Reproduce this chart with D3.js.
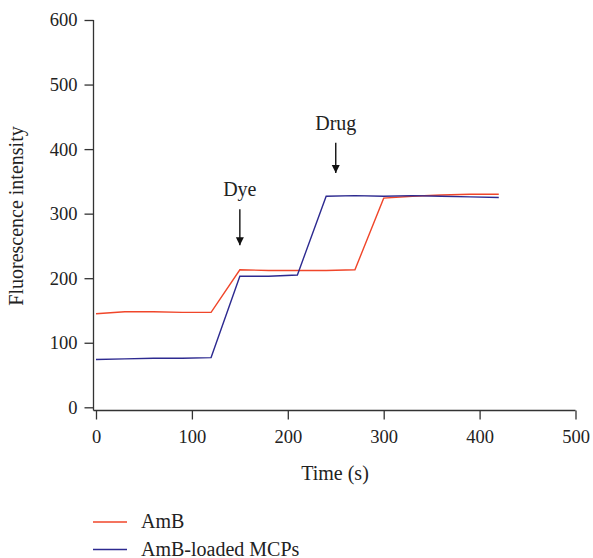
<!DOCTYPE html>
<html>
<head>
<meta charset="utf-8">
<script src="https://cdn.jsdelivr.net/npm/d3@7"></script>
<style>
  body { margin: 0; background: #fff; }
  text { font-family: "Liberation Serif", "DejaVu Serif", serif; fill: #222; }
</style>
</head>
<body>
<svg id="chart" width="593" height="558"></svg>
<script>
// time points (s)
const times = [0, 30, 60, 90, 120, 150, 180, 210, 240, 270, 300, 330, 360, 390, 420];
// fluorescence values
const amb = [145, 148, 148, 147, 147, 213, 212, 212, 212, 213, 324, 327, 329, 330, 330];
const ambMcp = [74, 75, 76, 76, 77, 203, 203, 205, 327, 328, 327, 328, 327, 326, 325];
const xTicks = [0, 100, 200, 300, 400, 500];
const yTicks = [0, 100, 200, 300, 400, 500, 600];
// annotations: time, arrow top, arrow bottom (in intensity units)
const notes = [
  { label: "Dye", t: 150, top: 307, bottom: 251 },
  { label: "Drug", t: 250, top: 410, bottom: 363 }
];
const seriesNames = ["AmB", "AmB-loaded MCPs"];
const colors = ["#f0462a", "#2d2a90"];

const svg = d3.select("#chart");

const x = d3.scaleLinear().domain([0, 500]).range([96, 575.5]);
const y = d3.scaleLinear().domain([0, 600]).range([407.3, 20]);

// axes
const yAxis = svg.append("g")
  .attr("transform", "translate(93.5,0)")
  .call(d3.axisLeft(y).tickValues(yTicks).tickSize(9).tickPadding(7));
yAxis.select(".domain").attr("d", "M0,20V410.5");

const xAxis = svg.append("g")
  .attr("transform", "translate(0,410.5)")
  .call(d3.axisBottom(x).tickValues(xTicks).tickSize(9).tickPadding(10));
xAxis.select(".domain").attr("d", "M93.5,0H575.5");

svg.selectAll(".tick text")
  .style("font-family", "Liberation Serif, serif")
  .style("font-size", "18.5px")
  .attr("fill", "#222");
svg.selectAll(".domain, .tick line").attr("stroke", "#333").attr("stroke-width", 1.3);

// axis titles
svg.append("text")
  .attr("x", 335).attr("y", 480)
  .attr("text-anchor", "middle")
  .style("font-size", "20px")
  .text("Time (s)");

svg.append("text")
  .attr("transform", "translate(23,216) rotate(-90)")
  .attr("text-anchor", "middle")
  .style("font-size", "20px")
  .text("Fluorescence intensity");

// lines
const line = d3.line()
  .x((d, i) => x(times[i]))
  .y(d => y(d));

[amb, ambMcp].forEach((s, k) => {
  svg.append("path")
    .datum(s)
    .attr("fill", "none")
    .attr("stroke", colors[k])
    .attr("stroke-width", 1.4)
    .attr("d", line);
});

// arrows
svg.append("defs").append("marker")
  .attr("id", "head")
  .attr("viewBox", "0 0 10 10")
  .attr("refX", 10).attr("refY", 5)
  .attr("markerWidth", 8).attr("markerHeight", 10)
  .attr("markerUnits", "userSpaceOnUse")
  .attr("orient", "auto")
  .append("path")
  .attr("d", "M0,0L10,5L0,10Z")
  .attr("fill", "#111");

notes.forEach(n => {
  svg.append("line")
    .attr("x1", x(n.t)).attr("x2", x(n.t))
    .attr("y1", y(n.top)).attr("y2", y(n.bottom))
    .attr("stroke", "#111").attr("stroke-width", 1.4)
    .attr("marker-end", "url(#head)");
  svg.append("text")
    .attr("x", x(n.t)).attr("y", y(n.top) - 13)
    .attr("text-anchor", "middle")
    .style("font-size", "20px")
    .text(n.label);
});

// legend
const legend = svg.append("g").attr("transform", "translate(93,522)");
seriesNames.forEach((name, k) => {
  const g = legend.append("g").attr("transform", `translate(0,${k * 27.5})`);
  g.append("line").attr("x1", 0).attr("x2", 34)
    .attr("stroke", colors[k]).attr("stroke-width", 1.4);
  g.append("text").attr("x", 48).attr("y", 6)
    .style("font-size", "20px")
    .text(name);
});
</script>
</body>
</html>
